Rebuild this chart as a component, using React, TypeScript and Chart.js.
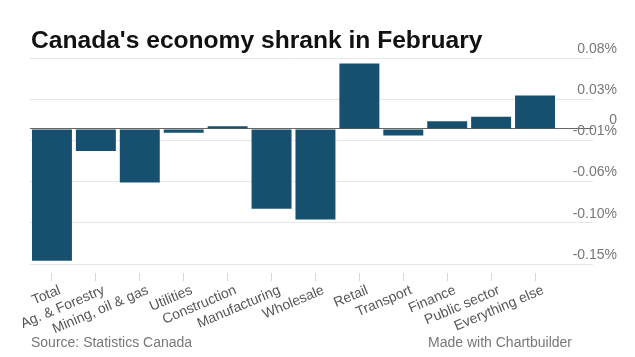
import React, { useEffect, useRef } from "react";
import { Chart, registerables } from "chart.js";

Chart.register(...registerables);

const categories = [
  "Total",
  "Ag. & Forestry",
  "Mining, oil & gas",
  "Utilities",
  "Construction",
  "Manufacturing",
  "Wholesale",
  "Retail",
  "Transport",
  "Finance",
  "Public sector",
  "Everything else",
];

const values = [
  -0.144, -0.0242, -0.0584, -0.0042, 0.003, -0.0871, -0.0988, 0.0715, -0.0071,
  0.0085, 0.0133, 0.0366,
];

const tickValues = [0.0775, 0.0325, 0, -0.0125, -0.0575, -0.1025, -0.1475];
const tickLabels = ["0.08%", "0.03%", "0", "-0.01%", "-0.06%", "-0.10%", "-0.15%"];

const titleText = "Canada's economy shrank in February";
const sourceText = "Source: Statistics Canada";
const creditText = "Made with Chartbuilder";

const FONT = "'Liberation Sans', Arial, Helvetica, sans-serif";

export default function App() {
  const ref = useRef<HTMLCanvasElement | null>(null);

  useEffect(() => {
    if (!ref.current) return;
    const textPlugin = {
      id: "texts",
      beforeDraw(chart: any) {
        const ctx = chart.ctx;
        ctx.save();
        ctx.textBaseline = "alphabetic";
        ctx.fillStyle = "#111";
        ctx.font = `bold 24.6px ${FONT}`;
        ctx.textAlign = "left";
        ctx.fillText(titleText, 31, 48);
        ctx.fillStyle = "#777";
        ctx.font = `14px ${FONT}`;
        ctx.fillText(sourceText, 31, 347);
        ctx.textAlign = "right";
        ctx.fillText(creditText, 572, 347);
        ctx.restore();
      },
    };

    const chart = new Chart(ref.current, {
      type: "bar",
      data: {
        labels: categories,
        datasets: [
          {
            data: values,
            backgroundColor: "#17506f",
            borderWidth: 0,
            barPercentage: 0.91,
            categoryPercentage: 1,
          },
        ],
      },
      plugins: [textPlugin],
      options: {
        responsive: false,
        animation: false,
        devicePixelRatio: 1,
        layout: { padding: { left: 30, right: 18, top: 58, bottom: 0 } },
        plugins: {
          legend: { display: false },
          tooltip: { enabled: false },
          title: { display: false },
        },
        scales: {
          x: {
            offset: true,
            border: { display: false },
            grid: {
              offset: false,
              drawOnChartArea: false,
              drawTicks: true,
              tickLength: 17,
              tickColor: "#d8d8d8",
              tickBorderDash: [0, 9, 8, 100],
            },
            ticks: {
              autoSkip: false,
              minRotation: 23,
              maxRotation: 23,
              padding: 1,
              labelOffset: 8,
              color: "#555",
              font: { family: FONT, size: 14 },
            },
            afterFit(scale: any) {
              scale.height = 93;
            },
          },
          y: {
            position: "right",
            min: -0.1475,
            max: 0.0775,
            border: { display: false },
            afterBuildTicks(scale: any) {
              scale.ticks = tickValues.map((v) => ({ value: v }));
            },
            afterFit(scale: any) {
              scale.width = 60;
            },
            grid: {
              drawTicks: true,
              tickLength: 36,
              color: (c: any) => (c.tick && c.tick.value === 0 ? "#666" : "#e6e6e6"),
            },
            ticks: {
              crossAlign: "far",
              padding: -20,
              labelOffset: -9,
              color: "#777",
              font: { family: FONT, size: 14 },
              callback: (value: any) => {
                const i = tickValues.indexOf(Number(value));
                return i >= 0 ? tickLabels[i] : "";
              },
            },
          },
        },
      },
    });
    return () => chart.destroy();
  }, []);

  return (
    <div style={{ position: "absolute", left: 0, top: 0, width: 635, height: 357, background: "#fff" }}>
      <canvas ref={ref} width={635} height={357} style={{ display: "block" }} />
    </div>
  );
}
